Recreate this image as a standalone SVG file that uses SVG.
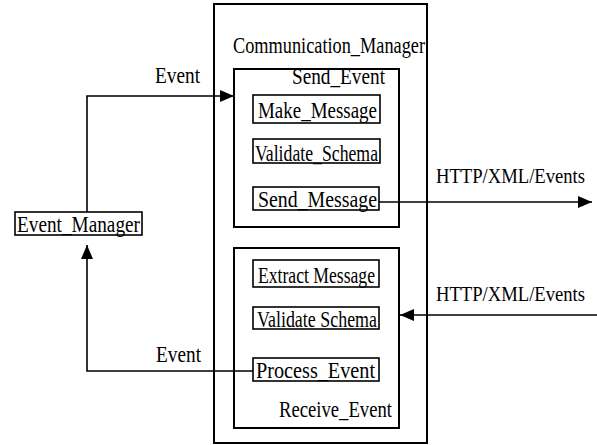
<svg xmlns="http://www.w3.org/2000/svg" width="597" height="445" viewBox="0 0 597 445">
<style>
text{font-family:"Liberation Serif","Times New Roman",serif;font-size:23px;fill:#000}
text.proto{font-size:20px}
.box{fill:none;stroke:#000;stroke-width:2}
.sub{fill:none;stroke:#000;stroke-width:1.6}
.conn{fill:none;stroke:#000;stroke-width:1.6}
</style>
<defs>
<marker id="ah" viewBox="0 0 14 12" refX="14" refY="6" markerWidth="14" markerHeight="12" markerUnits="userSpaceOnUse" orient="auto">
<path d="M0,0 L14,6 L0,12 Z" fill="#000"/>
</marker>
</defs>
<g id="communication_manager">
<rect class="box" x="214" y="4" width="213" height="439"/>
<text x="233" y="53" textLength="192" lengthAdjust="spacingAndGlyphs">Communication_Manager</text>
</g>
<g id="send_event">
<rect class="box" x="234" y="69" width="165" height="158"/>
<text x="292" y="84" textLength="93" lengthAdjust="spacingAndGlyphs">Send_Event</text>
</g>
<g id="make_message">
<rect class="sub" x="253" y="95" width="127" height="28"/>
<text x="258" y="118" textLength="119" lengthAdjust="spacingAndGlyphs">Make_Message</text>
</g>
<g id="validate_schema_send">
<rect class="sub" x="253" y="139" width="127" height="24"/>
<text x="255" y="161" textLength="123" lengthAdjust="spacingAndGlyphs">Validate_Schema</text>
</g>
<g id="send_message">
<rect class="sub" x="253" y="187" width="126" height="23"/>
<text x="258" y="207" textLength="119" lengthAdjust="spacingAndGlyphs">Send_Message</text>
</g>
<g id="receive_event">
<rect class="box" x="234" y="248" width="165" height="180"/>
<text x="279" y="417" textLength="113" lengthAdjust="spacingAndGlyphs">Receive_Event</text>
</g>
<g id="extract_message">
<rect class="sub" x="253" y="260" width="126" height="27"/>
<text x="258" y="283" textLength="117" lengthAdjust="spacingAndGlyphs">Extract Message</text>
</g>
<g id="validate_schema_receive">
<rect class="sub" x="253" y="307" width="126" height="22"/>
<text x="257" y="327" textLength="120" lengthAdjust="spacingAndGlyphs">Validate Schema</text>
</g>
<g id="process_event">
<rect class="sub" x="253" y="358" width="126" height="23"/>
<text x="256" y="378" textLength="119" lengthAdjust="spacingAndGlyphs">Process_Event</text>
</g>
<g id="event_manager">
<rect class="sub" x="15" y="212" width="127" height="23"/>
<text x="17" y="232" textLength="123" lengthAdjust="spacingAndGlyphs">Event_Manager</text>
</g>
<g id="connectors">
<polyline class="conn" points="87,212 87,96 234,96" marker-end="url(#ah)"/>
<text x="155" y="83" textLength="45" lengthAdjust="spacingAndGlyphs">Event</text>
<polyline class="conn" points="253,371 87,371 87,245" marker-end="url(#ah)"/>
<text x="156" y="362" textLength="45" lengthAdjust="spacingAndGlyphs">Event</text>
<line class="conn" x1="379" y1="202" x2="592" y2="202" marker-end="url(#ah)"/>
<text class="proto" x="436" y="183" textLength="149" lengthAdjust="spacingAndGlyphs">HTTP/XML/Events</text>
<line class="conn" x1="597" y1="315" x2="400" y2="315" marker-end="url(#ah)"/>
<text class="proto" x="436" y="301" textLength="149" lengthAdjust="spacingAndGlyphs">HTTP/XML/Events</text>
</g>
</svg>
